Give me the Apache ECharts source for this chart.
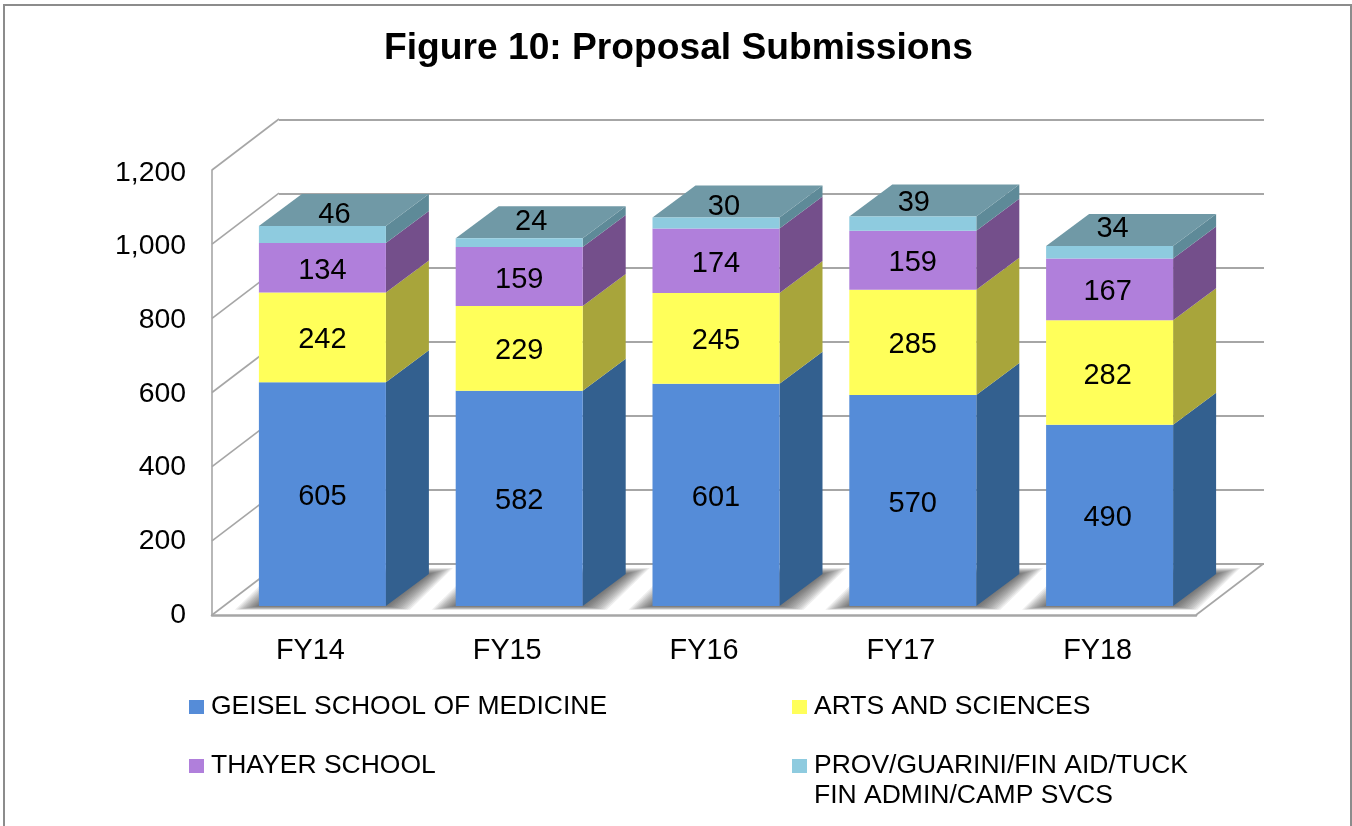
<!DOCTYPE html>
<html><head><meta charset="utf-8">
<style>html,body{margin:0;padding:0;background:#fff;overflow:hidden}#c{width:1352px;height:826px}</style>
<script src="https://cdn.jsdelivr.net/npm/echarts@6/dist/echarts.min.js"></script>
</head><body><div id="c"></div>
<script>
const categories = ['FY14','FY15','FY16','FY17','FY18'];
const geisel = [605,582,601,570,490];
const arts = [242,229,245,285,282];
const thayer = [134,159,174,159,167];
const prov = [46,24,30,39,34];
const seriesNames = ['GEISEL SCHOOL OF MEDICINE','ARTS AND SCIENCES','THAYER SCHOOL','PROV/GUARINI/FIN AID/TUCK\nFIN ADMIN/CAMP SVCS'];
const yTicks = [0,200,400,600,800,1000,1200];
const frontColors = ['#558cd8','#ffff5a','#b07fdb','#8ecbdf'];
const sideColors = ['#33608f','#a8a53b','#744f8b','#5e8a98'];
const topColor = '#7099a6';
const wallColor = '#a6a6a6';
const topLabelOffsets = [[12,-20],[12,-21],[8,-16],[1,-21],[3,-23]];
const labelNudgeX = [0,0,0,0,-2];

const FONT = '"Liberation Sans", Arial, sans-serif';
const BAR_W = 127, DEPTH_X = 43, DEPTH_Y = -32, WALL_X = 67, WALL_Y = -51;
const SHADOW_LAYERS = 12, SHADOW_STEP = 2;
const all = [geisel, arts, thayer, prov];

const rows = [];
categories.forEach((c, i) => {
  let base = 0;
  all.forEach((arr, s) => { rows.push([i, s, base, base + arr[i]]); base += arr[i]; });
});

function sideItem(params, api) {
  const cat = api.value(0), s = api.value(1);
  const b = api.coord([cat, api.value(2)]), t = api.coord([cat, api.value(3)]);
  const r = b[0] + BAR_W / 2, l = b[0] - BAR_W / 2;
  const children = [{
    type: 'polygon', shape: { points: [[r, b[1]], [r + DEPTH_X, b[1] + DEPTH_Y], [r + DEPTH_X, t[1] + DEPTH_Y], [r, t[1]]] },
    style: { fill: sideColors[s] }
  }];
  if (s === all.length - 1) children.push({
    type: 'polygon', shape: { points: [[l, t[1]], [r, t[1]], [r + DEPTH_X, t[1] + DEPTH_Y], [l + DEPTH_X, t[1] + DEPTH_Y]] },
    style: { fill: topColor }
  });
  return { type: 'group', children };
}
function shadowItem(params, api) {
  const b = api.coord([api.value(0), 0]);
  const r = b[0] + BAR_W / 2, l = b[0] - BAR_W / 2;
  const children = [];
  for (let n = SHADOW_LAYERS; n >= 1; n--) {
    const k = n * SHADOW_STEP;
    children.push({ type: 'polygon', shape: { points: [
      [l - k, b[1] + k * 0.16], [r + k, b[1] + k * 0.16],
      [r + DEPTH_X + k, b[1] + DEPTH_Y - k * 0.25], [l + DEPTH_X - k, b[1] + DEPTH_Y - k * 0.25]] },
      style: { fill: 'rgba(60,60,60,0.085)' } });
  }
  return { type: 'group', children };
}
function wallItem(params, api) {
  const v = api.value(0), p = api.coord([0, v]), g = params.coordSys;
  return { type: 'line', shape: { x1: g.x, y1: p[1], x2: g.x + WALL_X, y2: p[1] + WALL_Y },
    style: { stroke: wallColor, lineWidth: 1.6 } };
}
function floorItem(params, api) {
  const g = params.coordSys, y = g.y + g.height, x = g.x + g.width;
  return { type: 'line', shape: { x1: x, y1: y, x2: x + WALL_X, y2: y + WALL_Y },
    style: { stroke: wallColor, lineWidth: 1.6 } };
}

const barSeries = all.map((arr, s) => ({
  type: 'bar', name: seriesNames[s], stack: 'total', xAxisIndex: 1, yAxisIndex: 1, barWidth: BAR_W, z: 4,
  itemStyle: { color: frontColors[s] },
  label: { show: true, position: 'inside', color: '#000', fontFamily: FONT, fontSize: 29 },
  data: arr.map((v, i) => ({
    value: v,
    label: { offset: s === all.length - 1 ? topLabelOffsets[i] : [labelNudgeX[i], 3] }
  }))
}));

const legendBase = { orient: 'horizontal', icon: 'rect', itemWidth: 15, itemHeight: 14, selectedMode: false, padding: 0,
  textStyle: { fontFamily: FONT, fontSize: 26.5, color: '#000', padding: [0, 0, 0, 2], lineHeight: 30 } };

const option = {
  animation: false,
  backgroundColor: '#fff',
  title: { text: 'Figure 10: Proposal Submissions', left: 379, top: 25,
    textStyle: { fontFamily: FONT, fontWeight: 'bold', fontSize: 37.2, color: '#000' } },
  graphic: [{ type: 'rect', shape: { x: 4, y: 5, width: 1347, height: 900 }, style: { fill: 'none', stroke: '#8c8c8c', lineWidth: 2 }, z: -1 }],
  legend: [
    { ...legendBase, left: 189, top: 692, data: [seriesNames[0]] },
    { ...legendBase, left: 792, top: 692, data: [seriesNames[1]] },
    { ...legendBase, left: 189, top: 751, data: [seriesNames[2]] },
    { ...legendBase, left: 792, top: 751, itemHeight: 44, icon: 'path://M0,0H15V14H0Z M0,43.9H0.01V44H0Z', data: [seriesNames[3]] }
  ],
  grid: [
    { left: 212, top: 170, width: 984, height: 445 },
    { left: 224, top: 162, width: 984, height: 444 },
    { left: 279, top: 120, width: 985, height: 444 },
    { left: 212, top: 173, width: 984, height: 442 }
  ],
  xAxis: [
    { type: 'category', gridIndex: 0, data: categories, axisTick: { show: false },
      axisLine: { lineStyle: { color: wallColor, width: 2.5 } },
      axisLabel: { color: '#000', fontFamily: FONT, fontSize: 28.8, margin: 22 } },
    { type: 'category', gridIndex: 1, data: categories, show: false },
    { type: 'category', gridIndex: 2, data: categories, show: false },
    { type: 'category', gridIndex: 3, data: categories, show: false }
  ],
  yAxis: [
    { type: 'value', gridIndex: 0, min: 0, max: 1200, interval: 200, splitLine: { show: false }, axisTick: { show: false },
      axisLine: { show: true, lineStyle: { color: wallColor, width: 1.6 } }, axisLabel: { show: false } },
    { type: 'value', gridIndex: 1, min: 0, max: 1200, interval: 200, show: false, splitLine: { show: false } },
    { type: 'value', gridIndex: 2, min: 0, max: 1200, interval: 200,
      axisLine: { show: false }, axisTick: { show: false }, axisLabel: { show: false },
      splitLine: { show: true, lineStyle: { color: wallColor, width: 1.8 } } },
    { type: 'value', gridIndex: 3, min: 0, max: 1200, interval: 200, splitLine: { show: false }, axisTick: { show: false }, axisLine: { show: false },
      axisLabel: { color: '#000', fontFamily: FONT, fontSize: 28.4, margin: 26, padding: [3, 0, 0, 0], formatter: v => v.toLocaleString('en-US') } }
  ],
  series: [
    { type: 'custom', xAxisIndex: 0, yAxisIndex: 0, z: 1, clip: false, renderItem: wallItem, data: yTicks.map(v => [v]), encode: { y: 0 }, silent: true },
    { type: 'custom', xAxisIndex: 0, yAxisIndex: 0, z: 1, clip: false, renderItem: floorItem, data: [[0]], encode: { y: 0 }, silent: true },
    { type: 'custom', xAxisIndex: 1, yAxisIndex: 1, z: 2, clip: false, renderItem: shadowItem, data: categories.map((c, i) => [i]), encode: { x: 0 }, silent: true },
    { type: 'custom', xAxisIndex: 1, yAxisIndex: 1, z: 3, clip: false, renderItem: sideItem, data: rows, encode: { x: 0, y: [2, 3] }, silent: true },
    ...barSeries
  ]
};
echarts.init(document.getElementById('c'), null, { renderer: 'canvas' }).setOption(option);
</script></body></html>
